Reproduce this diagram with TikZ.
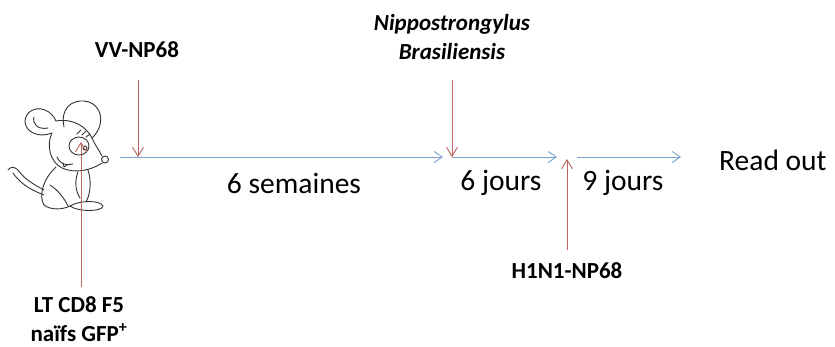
\documentclass[tikz,border=0pt]{standalone}
\usepackage{fontspec}
\setmainfont{Carlito}
\usetikzlibrary{arrows.meta}
\definecolor{timeline}{RGB}{122,160,204}
\definecolor{inject}{RGB}{188,98,96}
\tikzset{
  tl/.style={draw=timeline, line width=0.9pt, -{Straight Barb[length=8pt,width=11pt]}},
  shot/.style={draw=inject, line width=0.9pt, -{Straight Barb[length=9pt,width=11pt]}},
  lab/.style={font=\fontsize{23}{29}\selectfont\bfseries, align=center, inner sep=0pt},
  dur/.style={font=\fontsize{29.5}{34}\selectfont, inner sep=0pt},
  sketch/.style={draw=black!80, line width=0.9pt, line cap=round, line join=round}
}
\begin{document}
\begin{tikzpicture}[x=1pt,y=-1pt]
\useasboundingbox (0,0) rectangle (835,346);

% --- cartoon mouse ---
\begin{scope}[sketch]
  % ears
  \draw (64,127) .. controls (60,108) and (72,100) .. (84,101)
                 .. controls (98,102) and (104,116) .. (99,128)
                 .. controls (97,133) and (94,136) .. (92,138);
  \draw (52,133) .. controls (40,138) and (26,133) .. (25,122)
                 .. controls (25,112) and (35,106) .. (45,110)
                 .. controls (50,112) and (54,116) .. (56,121);
  \draw (48,128) .. controls (38,130) and (32,124) .. (34,117);
  % head
  \draw (56,121) .. controls (72,118) and (86,126) .. (92,138)
                 .. controls (95,145) and (99,150) .. (102,156);
  \draw (52,133) .. controls (46,145) and (50,162) .. (62,168)
                 .. controls (75,174) and (92,170) .. (102,163);
  \draw (105,159.5) circle (3.5);
  \draw (79,146) ellipse (10 and 9);
  \draw (85,148) circle (2);
  \draw (77,134) -- (81,130);
  \draw (82,135) -- (86,131);
  \draw (86,137) -- (90,134);
  % smile
  \draw (57,157) .. controls (60,164) and (66,166) .. (73,164);
  \draw (63,163) -- (64,167) -- (67,165);
  % body
  \draw (56,167) .. controls (44,178) and (38,195) .. (44,205);
  \draw (88,170) .. controls (92,182) and (90,195) .. (86,202);
  \draw (50,185) .. controls (58,190) and (64,198) .. (68,206);
  \draw (78,172) .. controls (74,182) and (76,192) .. (80,198);
  % feet
  \draw (70,206) .. controls (80,200) and (100,200) .. (103,206)
                 .. controls (102,212) and (78,212) .. (70,206);
  \draw (44,205) .. controls (50,210) and (62,210) .. (70,206);
  % tail
  \draw (44,190) .. controls (35,185) and (25,180) .. (18,170)
                 .. controls (14,166) and (10,167) .. (8,170);
  \draw (44,195) .. controls (34,191) and (22,186) .. (13,173);
\end{scope}

% --- labels ---
\node[lab] (vv) at (137,50) {VV-NP68};
\node[lab, font=\fontsize{23}{29}\selectfont\bfseries\itshape] (nb) at (452,37)
  {Nippostrongylus\\Brasiliensis};
\node[lab] (h1) at (567,271) {H1N1-NP68};
\node[lab] (lt) at (79,319) {LT CD8 F5\\na\"ifs GFP\textsuperscript{+}};
\node[dur] (s6) at (294,183) {6 semaines};
\node[dur] (j6) at (501,183) {6 jours};
\node[dur] (j9) at (623,183) {9 jours};
\node[dur, anchor=west] (ro) at (719,160) {Read out};

% --- time points ---
\coordinate (t0) at (120,157);
\coordinate (t1) at (443,157);
\coordinate (t2) at (452,157);
\coordinate (t3) at (557,157);
\coordinate (t4) at (577,157);
\coordinate (t5) at (681,157);
\coordinate (vvEnd) at (138,157);
\coordinate (vvStart) at (138,80);
\coordinate (nbStart) at (452,80);
\coordinate (h1Start) at (567,250);
\coordinate (h1End) at (567,159);
\coordinate (ltStart) at (81,287);
\coordinate (ltEnd) at (81,142);

% --- timeline ---
\draw[tl] (t0) -- (t1);
\draw[tl] (t2) -- (t3);
\draw[tl] (t4) -- (t5);

% --- injections ---
\draw[shot] (vvStart) -- (vvEnd);
\draw[shot] (nbStart) -- (t2);
\draw[shot] (h1Start) -- (h1End);
\draw[shot] (ltStart) -- (ltEnd);
\end{tikzpicture}
\end{document}
